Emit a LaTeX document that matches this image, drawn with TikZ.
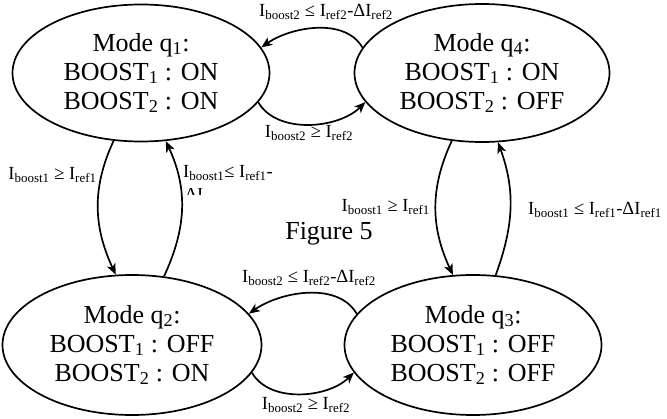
\documentclass[tikz,border=0pt]{standalone}
\usepackage{fontspec}
\setmainfont{Liberation Serif}
\usetikzlibrary{shapes.geometric,arrows.meta}
\newcommand{\labfont}{\fontsize{18.5}{20}\selectfont}
\newcommand{\modefont}{\fontsize{26}{29}\selectfont}
\tikzset{
  modebox/.style={ellipse, draw, line width=1.7pt, inner sep=-8pt, align=center, font=\modefont},
  trans/.style={line width=1.7pt, -{Stealth[length=11pt,width=9pt,inset=3pt]}},
  lab/.style={inner sep=0pt, font=\labfont},
}
\begin{document}
\begin{tikzpicture}[x=1pt,y=1pt]
\useasboundingbox (0,0) rectangle (667,418);
\node[modebox, minimum width=257pt, minimum height=137pt] (q1) at (141,345)
  {Mode q\textsubscript{1}:\\BOOST\textsubscript{1} : ON\\BOOST\textsubscript{2} : ON};
\node[modebox, minimum width=255pt, minimum height=138pt] (q4) at (482,345)
  {Mode q\textsubscript{4}:\\BOOST\textsubscript{1} : ON\\BOOST\textsubscript{2} : OFF};
\node[modebox, minimum width=259pt, minimum height=140pt] (q2) at (132,73)
  {Mode q\textsubscript{2}:\\BOOST\textsubscript{1} : OFF\\BOOST\textsubscript{2} : ON};
\node[modebox, minimum width=257pt, minimum height=140pt] (q3) at (473,73)
  {Mode q\textsubscript{3}:\\BOOST\textsubscript{1} : OFF\\BOOST\textsubscript{2} : OFF};

% horizontal transitions
\draw[trans] (q4.168) to[out=120,in=35,looseness=0.9] (q1.12);
\draw[trans] (q1.-14) to[out=-60,in=-135,looseness=0.9] (q4.194);
\draw[trans] (q3.165) to[out=120,in=35,looseness=0.9] (q2.15);
\draw[trans] (q2.-13) to[out=-60,in=-135,looseness=0.9] (q3.193);
% vertical transitions
\draw[trans] (q1.248) to[out=245,in=115] (q2.103);
\draw[trans] (q2.65) to[out=65,in=-65] (q1.290);
\draw[trans] (q4.246) to[out=245,in=115] (q3.106);
\draw[trans] (q3.72) to[out=70,in=-70] (q4.283);

% labels
\node[lab] (l1) at (326,406) {I\textsubscript{boost2} ≤ I\textsubscript{ref2}-ΔI\textsubscript{ref2}};
\node[lab] (l2) at (309,285) {I\textsubscript{boost2} ≥ I\textsubscript{ref2}};
\node[lab] (l3) at (309,140) {I\textsubscript{boost2} ≤ I\textsubscript{ref2}-ΔI\textsubscript{ref2}};
\node[lab] (l4) at (306,13) {I\textsubscript{boost2} ≥ I\textsubscript{ref2}};
\node[lab] (l5) at (52.5,243) {I\textsubscript{boost1} ≥ I\textsubscript{ref1}};
\node[lab, anchor=west] (l6) at (183,245) {I\textsubscript{boost1}≤ I\textsubscript{ref1}-};
\begin{scope}
  \clip (180,223) rectangle (220,229);
  \node[lab, anchor=north west] (l6b) at (185,229.5) {ΔI\textsubscript{ref1}};
\end{scope}
\node[lab, anchor=east] (l7) at (430,211) {I\textsubscript{boost1} ≥ I\textsubscript{ref1}};
\node[lab, anchor=west] (l8) at (528,208) {I\textsubscript{boost1} ≤ I\textsubscript{ref1}-ΔI\textsubscript{ref1}};
\node[inner sep=0pt, font=\modefont] (fig) at (329,184) {Figure 5};
\end{tikzpicture}
\end{document}
